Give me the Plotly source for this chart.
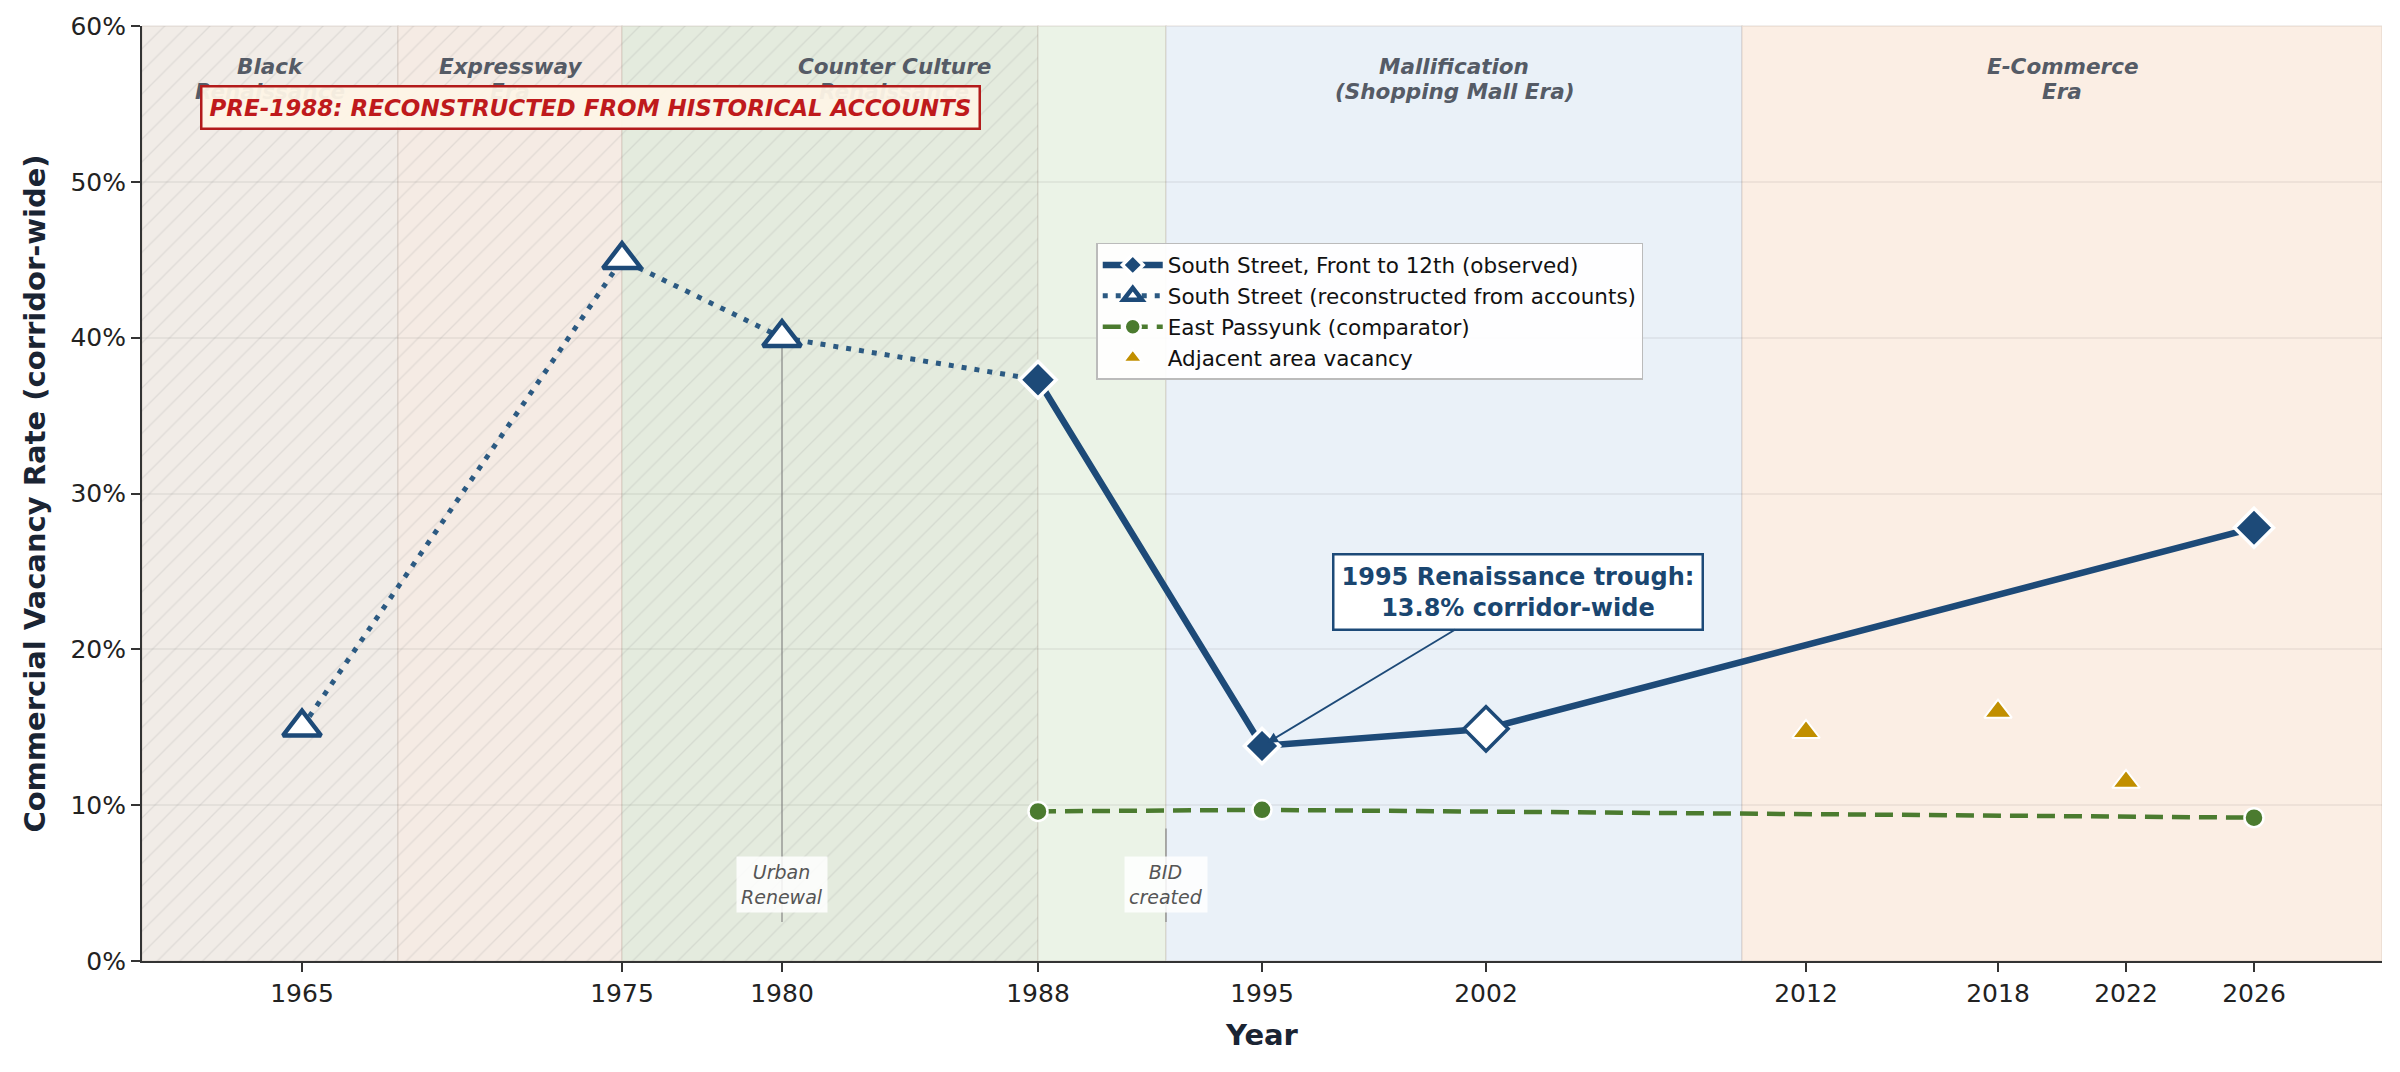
import plotly.graph_objects as go

# ---------------- data ----------------
tick_years = [1965, 1975, 1980, 1988, 1995, 2002, 2012, 2018, 2022, 2026]
y_ticks = [0, 10, 20, 30, 40, 50, 60]

recon_years = [1965, 1975, 1980]
recon_vals = [15.0, 45.0, 40.0]

obs_years = [1988, 1995, 2002, 2026]
obs_vals = [37.3, 13.8, 14.9, 27.8]

ep_years = [1988, 1995, 2026]
ep_vals = [9.6, 9.7, 9.2]

adj_years = [2012, 2018, 2022]
adj_vals = [14.7, 16.0, 11.5]

era_starts = [1960, 1968, 1975, 1988, 1992, 2010]
era_ends = [1968, 1975, 1988, 1992, 2010, 2030]
era_colors = ["#f1ece7", "#f5ebe4", "#e4ebde", "#ebf3e7", "#eaf1f8", "#fbeee4"]

era_labels = ["Black<br>Renaissance", "Expressway<br>Era", "Counter Culture<br>Renaissance",
              "Mallification<br>(Shopping Mall Era)", "E-Commerce<br>Era"]
era_label_x = [1964, 1971.5, 1983.5, 2001, 2020]

events = ["Urban<br>Renewal", "BID<br>created"]
event_years = [1980, 1992]
event_tops = [40.0, 8.5]

NAVY = "#1d4a78"
GREEN = "#4b7b2f"
GOLD = "#c18f00"
FONT = "DejaVu Sans"

fig = go.Figure()

# hatch for reconstructed period
fig.add_trace(go.Scatter(
    x=[1960, 1988, 1988, 1960, 1960], y=[0, 0, 60, 60, 0],
    mode="lines", line=dict(width=0), fill="toself",
    fillcolor="rgba(0,0,0,0)",
    fillpattern=dict(shape="/", fgcolor="rgba(150,150,150,0.4)", bgcolor="rgba(0,0,0,0)",
                     size=16, solidity=0.08),
    hoverinfo="skip", showlegend=False))

# event lines
for ey, top in zip(event_years, event_tops):
    fig.add_trace(go.Scatter(x=[ey, ey], y=[2.5, top], mode="lines",
                             line=dict(color="rgba(120,120,120,0.7)", width=1.5),
                             hoverinfo="skip", showlegend=False))

# East Passyunk
fig.add_trace(go.Scatter(
    x=ep_years, y=ep_vals, mode="lines+markers", name="East Passyunk (comparator)",
    line=dict(color=GREEN, width=4.5, dash="18px,9px"),
    marker=dict(symbol="circle", size=19, color=GREEN, opacity=1,
                line=dict(color="white", width=2.5)),
    legendrank=3))

# link from reconstructed to observed
fig.add_trace(go.Scatter(
    x=[recon_years[-1], obs_years[0]], y=[recon_vals[-1], obs_vals[0]], mode="lines",
    line=dict(color="#2c5a82", width=5, dash="5px,8px"), hoverinfo="skip", showlegend=False))

# reconstructed
fig.add_trace(go.Scatter(
    x=recon_years, y=recon_vals, mode="lines+markers",
    name="South Street (reconstructed from accounts)",
    line=dict(color="#2c5a82", width=5, dash="5px,8px"),
    marker=dict(symbol="triangle-up", size=33, color="white", opacity=1,
                line=dict(color=NAVY, width=4.5)),
    legendrank=2))

# observed
fig.add_trace(go.Scatter(
    x=obs_years, y=obs_vals, mode="lines+markers",
    name="South Street, Front to 12th (observed)",
    line=dict(color=NAVY, width=6.5),
    marker=dict(symbol="diamond", size=[28, 27, 34, 30], opacity=1,
                color=[NAVY, NAVY, "white", NAVY],
                line=dict(color=["white", "white", NAVY, "white"], width=3.5)),
    legendrank=1))

# adjacent
fig.add_trace(go.Scatter(
    x=adj_years, y=adj_vals, mode="markers", name="Adjacent area vacancy",
    marker=dict(symbol="triangle-up", size=24, color=GOLD, opacity=1,
                line=dict(color="white", width=2)),
    legendrank=4))

shapes = []
for s, e, c in zip(era_starts, era_ends, era_colors):
    shapes.append(dict(type="rect", xref="x", yref="paper", x0=s, x1=e, y0=0, y1=1,
                       fillcolor=c, line=dict(color="rgba(160,140,120,0.18)", width=1.5),
                       layer="below"))

annotations = []
line_y = [57.4, 55.8]
for lab, lx in zip(era_labels, era_label_x):
    for part, ly in zip(lab.split("<br>"), line_y):
        annotations.append(dict(x=lx, y=ly, xref="x", yref="y", yanchor="middle",
                                text="<b><i>" + part + "</i></b>", showarrow=False,
                                font=dict(family=FONT, size=21.5, color="#555b66")))

annotations.append(dict(
    x=1974.0, y=54.8, xref="x", yref="y",
    text="<b><i>PRE-1988: RECONSTRUCTED FROM HISTORICAL ACCOUNTS</i></b>",
    showarrow=False, font=dict(family=FONT, size=23, color="#bf1a1c"),
    bgcolor="rgba(253,244,230,0.95)", bordercolor="#b31b1b", borderwidth=2.5, borderpad=7))

for ev, ey in zip(events, event_years):
    annotations.append(dict(x=ey, y=4.9, xref="x", yref="y", text="<i>" + ev + "</i>",
                            showarrow=False, font=dict(family=FONT, size=19, color="#555555"),
                            bgcolor="rgba(255,255,255,0.85)", borderpad=4))

annotations.append(dict(
    x=obs_years[1], y=obs_vals[1], xref="x", yref="y",
    ax=2003.0, ay=23.7, axref="x", ayref="y",
    text="<b>1995 Renaissance trough:<br>13.8% corridor-wide</b>",
    font=dict(family=FONT, size=24, color="#1a4670"),
    bgcolor="white", bordercolor="#1d4a78", borderwidth=2.5, borderpad=7,
    showarrow=True, arrowhead=2, arrowsize=1.2, arrowwidth=1.8, arrowcolor="#1d4a78",
    standoff=6))

fig.update_layout(
    width=2400, height=1072,
    margin=dict(l=142, r=18, t=26, b=111),
    paper_bgcolor="white", plot_bgcolor="white",
    font=dict(family=FONT, size=20, color="#222222"),
    shapes=shapes, annotations=annotations,
    legend=dict(x=0.426, y=0.768, xanchor="left", yanchor="top",
                bgcolor="rgba(255,255,255,0.92)", bordercolor="#bbbbbb", borderwidth=1.5,
                font=dict(family=FONT, size=21.5, color="#111111"),
                tracegroupgap=2, itemwidth=60),
    showlegend=True,
)

fig.update_xaxes(
    range=[1960, 2030], tickvals=tick_years, ticktext=[str(t) for t in tick_years],
    showgrid=False, zeroline=False, showline=True, linecolor="#333333", linewidth=2,
    ticks="outside", ticklen=9, tickwidth=1.5, tickcolor="#333333",
    tickfont=dict(family=FONT, size=25, color="#222222"),
    title=dict(text="<b>Year</b>", font=dict(family=FONT, size=29, color="#1a2433"), standoff=18))

fig.update_yaxes(
    range=[0, 60], tickvals=y_ticks, ticktext=[f"{v}%" for v in y_ticks],
    showgrid=True, gridcolor="rgba(0,0,0,0.05)", gridwidth=1.5, zeroline=False,
    showline=True, linecolor="#333333", linewidth=2,
    ticks="outside", ticklen=9, tickwidth=1.5, tickcolor="#333333",
    tickfont=dict(family=FONT, size=25, color="#222222"),
    title=dict(text="<b>Commercial Vacancy Rate (corridor-wide)</b>",
               font=dict(family=FONT, size=29, color="#1a2433"), standoff=16))

fig.write_html("out.html")
